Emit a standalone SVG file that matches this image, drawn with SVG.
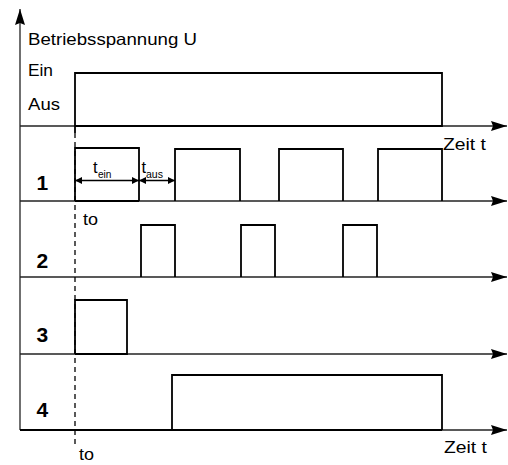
<svg xmlns="http://www.w3.org/2000/svg" width="508" height="465" viewBox="0 0 508 465">
<defs>
<marker id="ah" markerWidth="16" markerHeight="10" refX="16" refY="5" orient="auto" markerUnits="userSpaceOnUse"><path d="M0,0 L16,5 L0,10 L2,5 z" fill="#000"/></marker>
<marker id="sa" markerWidth="7" markerHeight="7" refX="7" refY="3.5" orient="auto-start-reverse" markerUnits="userSpaceOnUse"><path d="M0,0 L7,3.5 L0,7 z" fill="#000"/></marker>
<style>
.ax{stroke:#222;stroke-width:1.3;fill:none}
.sig{stroke:#000;stroke-width:1.8;fill:none;stroke-linejoin:miter}
.dim{stroke:#000;stroke-width:1.3;fill:none}
.t{font-family:"Liberation Sans",Arial,sans-serif;font-size:16.5px;fill:#000}
.n{font-family:"Liberation Sans",Arial,sans-serif;font-size:21px;font-weight:bold;fill:#000}
.s{font-family:"Liberation Sans",Arial,sans-serif;font-size:10px;fill:#000}
</style>
</defs>
<rect width="508" height="465" fill="#fff"/>
<g id="axes">
<line class="ax" x1="20" y1="430" x2="20" y2="9" marker-end="url(#ah)"/>
<line class="ax" x1="20" y1="126" x2="507" y2="126" marker-end="url(#ah)"/>
<line class="ax" x1="20" y1="201" x2="507" y2="201" marker-end="url(#ah)"/>
<line class="ax" x1="20" y1="277" x2="507" y2="277" marker-end="url(#ah)"/>
<line class="ax" x1="20" y1="354" x2="507" y2="354" marker-end="url(#ah)"/>
<line class="ax" x1="20" y1="430" x2="507" y2="430" marker-end="url(#ah)"/>
<line x1="75" y1="133" x2="75" y2="445" stroke="#000" stroke-width="1.3" stroke-dasharray="5,4"/>
</g>
<g id="signal-U">
<path class="sig" d="M75,133 V73 H442 V126 H75"/>
</g>
<g id="signal-1">
<path class="sig" d="M75,201 V148 H139 V201 M175,201 V149 H240 V201 M279,201 V149 H343 V201 M378,201 V149 H442 V201"/>
<path class="sig" d="M75,201 H139"/>
</g>
<g id="signal-2">
<path class="sig" d="M141,277 V225 H175 V277 M241,277 V225 H275 V277 M343,277 V225 H377 V277"/>
</g>
<g id="signal-3">
<path class="sig" d="M75,354 V300 H127 V354 H75"/>
</g>
<g id="signal-4">
<path class="sig" d="M172,430 V375 H442 V430 M20,430 H442"/>
</g>
<g id="connectors">
<line class="dim" x1="75" y1="180.5" x2="139" y2="180.5" marker-start="url(#sa)" marker-end="url(#sa)"/>
<line class="dim" x1="139" y1="180.5" x2="175" y2="180.5" marker-start="url(#sa)" marker-end="url(#sa)"/>
</g>
<g id="labels">
<text class="t" x="28" y="44.5" textLength="169" lengthAdjust="spacingAndGlyphs">Betriebsspannung U</text>
<text class="t" x="28" y="76" textLength="25" lengthAdjust="spacingAndGlyphs">Ein</text>
<text class="t" x="28" y="110" textLength="32" lengthAdjust="spacingAndGlyphs">Aus</text>
<text class="t" x="443" y="150" textLength="43" lengthAdjust="spacingAndGlyphs">Zeit t</text>
<text class="t" x="444" y="453" textLength="43" lengthAdjust="spacingAndGlyphs">Zeit t</text>
<text class="t" x="83" y="225" textLength="15" lengthAdjust="spacingAndGlyphs">to</text>
<text class="t" x="79" y="460" textLength="15" lengthAdjust="spacingAndGlyphs">to</text>
<text class="t" x="93" y="173">t</text>
<text class="s" x="98" y="177.5" textLength="13.5" lengthAdjust="spacingAndGlyphs">ein</text>
<text class="t" x="141.5" y="173">t</text>
<text class="s" x="146" y="177.5" textLength="17" lengthAdjust="spacingAndGlyphs">aus</text>
<text class="n" x="36.5" y="190">1</text>
<text class="n" x="36.5" y="268">2</text>
<text class="n" x="36.5" y="342">3</text>
<text class="n" x="36.5" y="417">4</text>
</g>
</svg>
